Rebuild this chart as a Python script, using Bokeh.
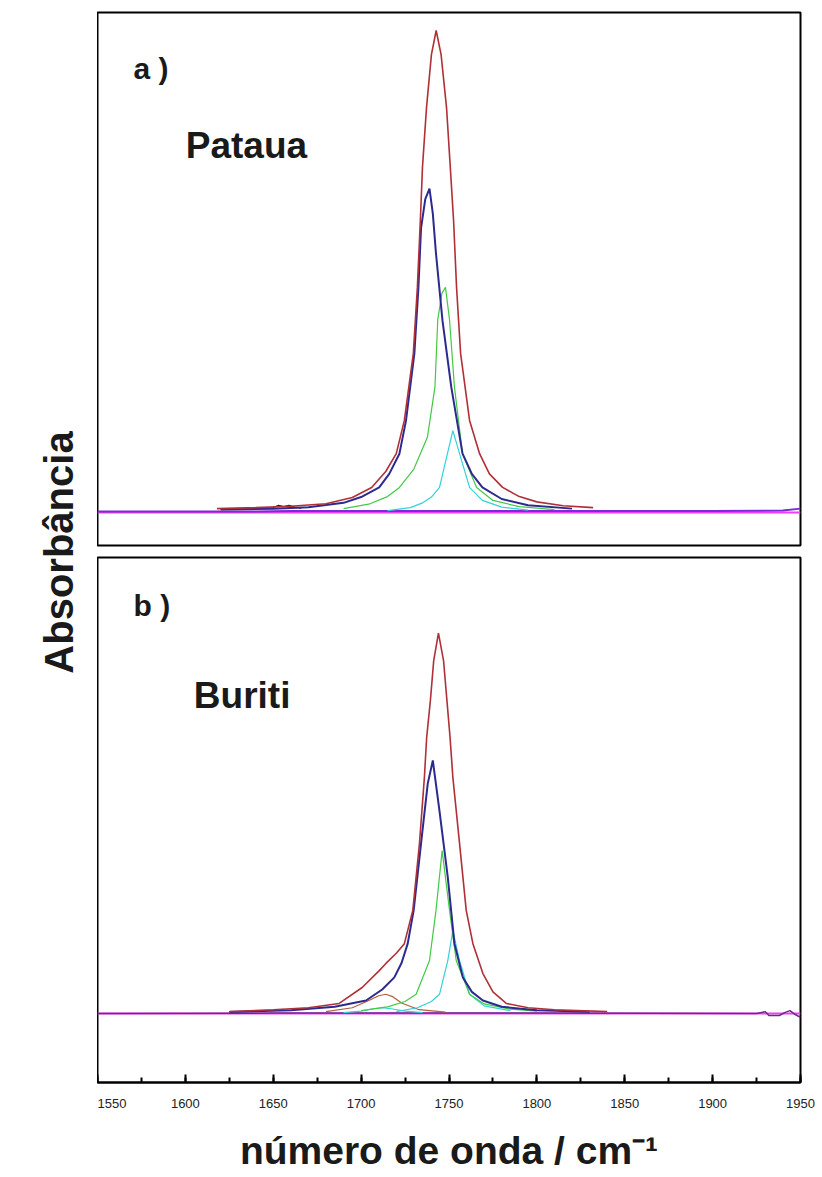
import math
from bokeh.plotting import figure
from bokeh.layouts import row, column
from bokeh.models import Label, Range1d, SingleIntervalTicker
from bokeh.embed import file_html
from bokeh.resources import INLINE

# ---------------- data ----------------
# x axis
x_ticks_start, x_ticks_end = 1550, 1950

# Panel a) Pataua
red_top_x = [1618, 1640, 1660, 1680, 1695, 1706, 1714, 1720, 1724.6, 1729.7, 1732, 1733.7, 1734.9, 1737.2, 1740, 1742.7, 1745.5, 1748.6, 1750.5, 1752.6, 1754.3, 1756.6, 1761.7, 1767.4, 1773, 1780.5, 1790, 1800, 1815, 1832]
red_top_y = [0.008, 0.010, 0.013, 0.018, 0.031, 0.052, 0.085, 0.122, 0.191, 0.330, 0.467, 0.606, 0.716, 0.840, 0.950, 1.000, 0.950, 0.840, 0.730, 0.606, 0.467, 0.330, 0.191, 0.122, 0.080, 0.052, 0.033, 0.022, 0.014, 0.010]

blue_top_x = [1620, 1650, 1670, 1690, 1700, 1710.3, 1716, 1721.8, 1725.5, 1730.3, 1732.6, 1734.1, 1736.5, 1738.9, 1740.8, 1742.6, 1746.3, 1751.3, 1757.7, 1763, 1769, 1780, 1795, 1820]
blue_top_y = [0.006, 0.008, 0.011, 0.020, 0.032, 0.052, 0.080, 0.122, 0.190, 0.330, 0.467, 0.590, 0.650, 0.672, 0.620, 0.537, 0.398, 0.260, 0.122, 0.080, 0.052, 0.028, 0.015, 0.008]

green_top_x = [1690, 1705, 1715, 1721.8, 1730, 1737.7, 1742.0, 1743.6, 1746, 1748, 1750.3, 1753.1, 1757.7, 1765.7, 1775, 1790, 1810]
green_top_y = [0.008, 0.018, 0.033, 0.052, 0.090, 0.156, 0.260, 0.400, 0.455, 0.467, 0.400, 0.260, 0.122, 0.052, 0.025, 0.012, 0.006]

cyan_top_x = [1715, 1728, 1735, 1740, 1744.6, 1749.1, 1752.2, 1756, 1761.7, 1769, 1780, 1795]
cyan_top_y = [0.004, 0.010, 0.020, 0.032, 0.052, 0.122, 0.170, 0.122, 0.052, 0.025, 0.011, 0.005]

bump_top_x = [1645, 1650, 1653, 1656, 1659, 1662, 1666]
bump_top_y = [0.008, 0.010, 0.015, 0.012, 0.015, 0.011, 0.009]

base_x = [1550, 1950]
base_y = [0.0, 0.0]
data_base_top_x = [1550, 1640, 1660, 1700, 1800, 1900, 1940, 1950]
data_base_top_y = [0.002, 0.002, 0.003, 0.003, 0.003, 0.003, 0.004, 0.008]

# Panel b) Buriti
red_bot_x = [1625, 1650, 1670, 1687.5, 1700.6, 1710.3, 1714.1, 1720, 1724.6, 1729.4, 1733.2, 1736, 1737.3, 1739.4, 1741.3, 1744, 1746.9, 1750.6, 1752.2, 1756, 1759.8, 1763.6, 1769.3, 1775, 1782.6, 1795, 1810, 1840]
red_bot_y = [0.004, 0.008, 0.012, 0.021, 0.054, 0.089, 0.104, 0.125, 0.145, 0.214, 0.353, 0.490, 0.573, 0.649, 0.732, 0.789, 0.732, 0.573, 0.490, 0.353, 0.214, 0.145, 0.083, 0.045, 0.021, 0.012, 0.008, 0.004]

blue_bot_x = [1625, 1660, 1685, 1702.8, 1712, 1718.9, 1723, 1726.5, 1729.9, 1734.1, 1737.9, 1740.8, 1744.6, 1749.3, 1753.1, 1757.9, 1763, 1769.3, 1780, 1800, 1830]
blue_bot_y = [0.003, 0.007, 0.014, 0.027, 0.050, 0.075, 0.105, 0.145, 0.214, 0.353, 0.477, 0.525, 0.420, 0.283, 0.145, 0.075, 0.045, 0.027, 0.014, 0.007, 0.004]

green_bot_x = [1700, 1715, 1725, 1731.3, 1738.9, 1742.6, 1746.1, 1750.3, 1754.1, 1761.7, 1770, 1785, 1800]
green_bot_y = [0.006, 0.014, 0.025, 0.040, 0.110, 0.214, 0.338, 0.214, 0.110, 0.040, 0.020, 0.009, 0.005]

cyan_bot_x = [1720, 1732, 1740, 1744.6, 1749.3, 1752.2, 1756, 1761.7, 1770, 1785]
cyan_bot_y = [0.004, 0.012, 0.025, 0.040, 0.110, 0.172, 0.110, 0.040, 0.016, 0.006]

shoulder_bot_x = [1680, 1695, 1705, 1710, 1714, 1718, 1723, 1733, 1748]
shoulder_bot_y = [0.004, 0.012, 0.028, 0.037, 0.040, 0.035, 0.022, 0.008, 0.003]

small_bot_x = [1690, 1700, 1707, 1712, 1717, 1725, 1735]
small_bot_y = [0.002, 0.005, 0.010, 0.012, 0.010, 0.005, 0.002]

data_base_bot_x = [1550, 1560, 1650, 1800, 1925, 1930, 1932, 1938, 1941, 1944, 1947, 1950]
data_base_bot_y = [0.000, 0.000, 0.001, 0.001, 0.000, 0.004, -0.004, -0.004, 0.002, 0.006, -0.002, -0.008]

# ---------------- styling ----------------
RED = "#b03038"
BLUE = "#2c2a8e"
GREEN = "#44c944"
CYAN = "#33d2d8"
MAGENTA = "#f040f0"
VIOLET = "#7a2ad8"
FONT = "Liberation Sans"

W_RIGHT = 725


def panel(height, yr, border_bottom, with_axis):
    p = figure(width=W_RIGHT, height=height, x_range=Range1d(x_ticks_start, x_ticks_end),
               y_range=Range1d(*yr), toolbar_location=None, output_backend="svg",
               min_border_left=0, min_border_right=22, min_border_top=12 if not with_axis else 6,
               min_border_bottom=border_bottom,
               x_axis_location="below" if with_axis else None, y_axis_location=None)
    p.grid.visible = False
    p.outline_line_color = "black"
    p.outline_line_width = 2
    p.background_fill_color = "white"
    p.border_fill_color = "white"
    return p


top = panel(551, (-0.0685, 1.0373), 6, False)
bot = panel(626, (-0.143, 0.946), 95, True)

# top curves
top.line(base_x, base_y, line_color=MAGENTA, line_width=2)
top.line(data_base_top_x, data_base_top_y, line_color=VIOLET, line_width=2)
top.line(bump_top_x, bump_top_y, line_color="#222222", line_width=1.2)
top.line(cyan_top_x, cyan_top_y, line_color=CYAN, line_width=1.2)
top.line(green_top_x, green_top_y, line_color=GREEN, line_width=1.2)
top.line(blue_top_x, blue_top_y, line_color=BLUE, line_width=2)
top.line(red_top_x, red_top_y, line_color=RED, line_width=1.6)

# bottom curves
bot.line(base_x, base_y, line_color=MAGENTA, line_width=2)
bot.line(data_base_bot_x, data_base_bot_y, line_color="#6a2a8a", line_width=1.5)
bot.line(small_bot_x, small_bot_y, line_color=CYAN, line_width=1.2)
bot.line(shoulder_bot_x, shoulder_bot_y, line_color="#b0603a", line_width=1.2)
bot.line(cyan_bot_x, cyan_bot_y, line_color=CYAN, line_width=1.2)
bot.line(green_bot_x, green_bot_y, line_color=GREEN, line_width=1.2)
bot.line(blue_bot_x, blue_bot_y, line_color=BLUE, line_width=2)
bot.line(red_bot_x, red_bot_y, line_color=RED, line_width=1.6)

# x axis on bottom panel
ax = bot.xaxis[0]
ax.ticker = SingleIntervalTicker(interval=50, num_minor_ticks=2)
ax.axis_line_width = 2
ax.major_tick_in = 8
ax.major_tick_out = 0
ax.minor_tick_in = 5
ax.minor_tick_out = 0
ax.major_tick_line_width = 2
ax.minor_tick_line_width = 2
ax.major_label_text_font = FONT
ax.major_label_text_font_size = "13px"
ax.major_label_text_color = "#222222"
ax.major_label_standoff = 16
ax.axis_label = "número de onda / cm⁻¹"
ax.axis_label_text_font = FONT
ax.axis_label_text_font_size = "39px"
ax.axis_label_text_font_style = "bold"
ax.axis_label_text_color = "#1a1a1a"
ax.axis_label_standoff = 18

# panel labels
def lab(p, x, y, text, size):
    p.add_layout(Label(x=x, y=y, text=text, text_font=FONT, text_font_size=size,
                       text_font_style="bold", text_color="#1a1a1a",
                       text_baseline="middle", text_align="left"))

lab(top, 1570.5, 0.921, "a )", "30px")
lab(top, 1600.2, 0.761, "Pataua", "37px")
lab(bot, 1570.5, 0.846, "b )", "30px")
lab(bot, 1604.8, 0.660, "Buriti", "37px")

# left column with y label
left = figure(width=97, height=1177, x_range=Range1d(0, 1), y_range=Range1d(0, 1),
              toolbar_location=None, output_backend="svg", min_border=0,
              x_axis_location=None, y_axis_location=None)
left.grid.visible = False
left.outline_line_color = None
left.add_layout(Label(x=0.6, y=0.531, text="Absorbância", angle=math.pi / 2,
                      text_font=FONT, text_font_size="40px", text_font_style="bold",
                      text_color="#1a1a1a", text_align="center", text_baseline="middle"))

layout = row(left, column(top, bot, spacing=0), spacing=0)

open("out.html", "w").write(file_html(layout, INLINE))
